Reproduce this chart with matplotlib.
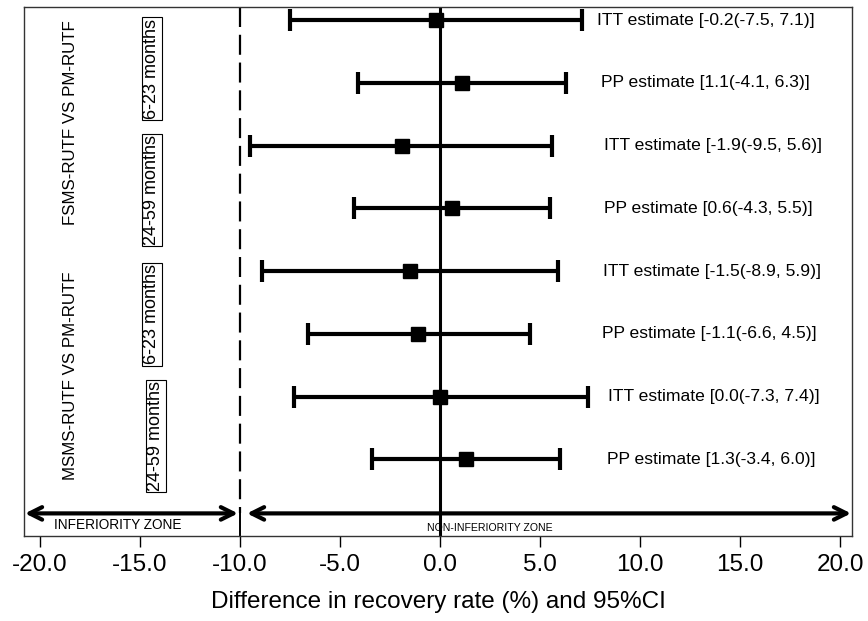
import matplotlib
matplotlib.use('Agg')
import matplotlib.pyplot as plt

plt.rcParams['font.family'] = ['Liberation Sans', 'DejaVu Sans']

# estimates, top to bottom
estimate = [-0.2, 1.1, -1.9, 0.6, -1.5, -1.1, 0.0, 1.3]
ci_low = [-7.5, -4.1, -9.5, -4.3, -8.9, -6.6, -7.3, -3.4]
ci_high = [7.1, 6.3, 5.6, 5.5, 5.9, 4.5, 7.4, 6.0]
kind = ['ITT', 'PP', 'ITT', 'PP', 'ITT', 'PP', 'ITT', 'PP']
label_x = [7.85, 8.05, 8.2, 8.2, 8.15, 8.1, 8.4, 8.35]

comparisons = ['FSMS-RUTF VS PM-RUTF', 'MSMS-RUTF VS PM-RUTF']
age_groups = ['6-23 months', '24-59 months', '6-23 months', '24-59 months']
xticks = [-20, -15, -10, -5, 0, 5, 10, 15, 20]
margin = -10

rows = list(range(1, len(estimate) + 1))
arrow_y = 8.86

fig = plt.figure(figsize=(8.68, 6.21), dpi=100)
ax = fig.add_axes([0.0276, 0.1369, 0.954, 0.8518])
ax.set_xlim(-20.8, 20.6)
ax.set_ylim(9.22, 0.79)

xerr = [[e - lo for e, lo in zip(estimate, ci_low)],
        [hi - e for e, hi in zip(estimate, ci_high)]]
ax.errorbar(estimate, rows, xerr=xerr, fmt='s', color='black', ms=10,
            elinewidth=3, capsize=8, capthick=3, zorder=3)

for r, e, lo, hi, k, lx in zip(rows, estimate, ci_low, ci_high, kind, label_x):
    ax.text(lx, r, '%s estimate [%.1f(%.1f, %.1f)]' % (k, e, lo, hi),
            fontsize=12.6, va='center', ha='left')

# reference lines
ax.axvline(0, color='black', lw=2.2, zorder=2)
ax.plot([margin, margin], [0.79, arrow_y], color='black', lw=1.6,
        dashes=(9, 3.5))
ax.plot([margin, margin], [arrow_y, 9.22], color='black', lw=1.4)

# zone arrows
arrow_kw = dict(arrowstyle='<->,head_length=0.9,head_width=0.45',
                color='black', lw=3, shrinkA=0, shrinkB=0)
ax.annotate('', xy=(-20.75, arrow_y), xytext=(margin - 0.1, arrow_y),
            arrowprops=arrow_kw)
ax.annotate('', xy=(margin + 0.35, arrow_y), xytext=(20.55, arrow_y),
            arrowprops=arrow_kw)
ax.text(-16.1, 9.05, 'INFERIORITY ZONE', fontsize=9.8, ha='center',
        va='center')
ax.text(2.5, 9.09, 'NON-INFERIORITY ZONE', fontsize=7.6, ha='center',
        va='center')

# group labels
for y, txt in zip([2.63, 6.66], comparisons):
    ax.text(-18.46, y, txt, rotation=90, fontsize=12.2, ha='center',
            va='center')
box = dict(boxstyle='square,pad=0.06', fc='white', ec='black', lw=0.8)
for x, y, txt in zip([-14.4, -14.4, -14.4, -14.2], [1.77, 3.71, 5.69, 7.62],
                     age_groups):
    ax.text(x, y, txt, rotation=90, fontsize=13, ha='center', va='center',
            bbox=box)

ax.set_yticks([])
ax.set_xticks(xticks)
ax.set_xticklabels(['%.1f' % t for t in xticks], fontsize=17.5)
ax.tick_params(axis='x', direction='out', length=8, width=1, pad=5)
ax.set_xlabel('Difference in recovery rate (%) and 95%CI', fontsize=17.5,
              labelpad=11)
for s in ax.spines.values():
    s.set_linewidth(1)
    s.set_color('#333333')

fig.savefig('out.png', dpi=100)
